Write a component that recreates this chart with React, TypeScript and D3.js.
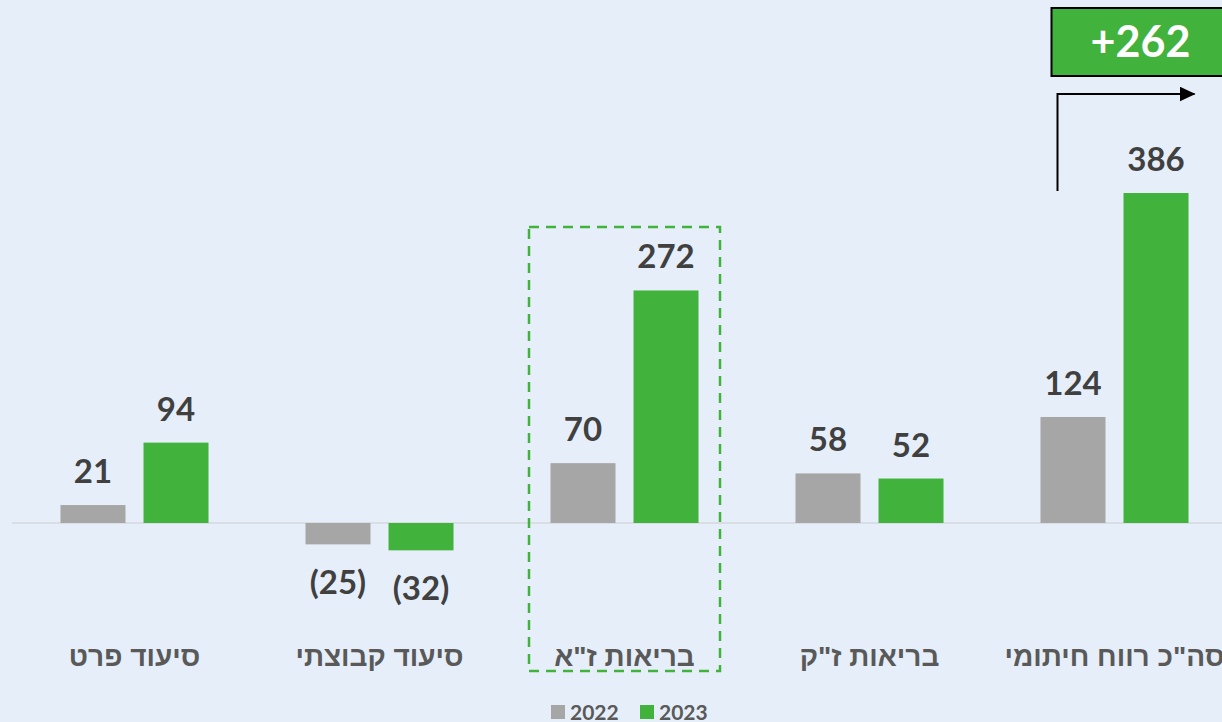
import React from "react";
import * as d3 from "d3";

const categories = ["סיעוד פרט", "סיעוד קבוצתי", "בריאות ז\"א", "בריאות ז\"ק", "סה\"כ רווח חיתומי"];
const series = ["2022", "2023"];
const values2022 = [21, -25, 70, 58, 124];
const values2023 = [94, -32, 272, 52, 386];
const deltaLabel = "+262";
const highlightCategory = "בריאות ז\"א";

const W = 1222;
const H = 722;
const BG = "#e6eff9";
const GREY = "#a6a6a6";
const GREEN = "#41b23b";
const colors: Record<string, string> = { "2022": GREY, "2023": GREEN };

const fmt = (v: number) => (v < 0 ? `(${Math.abs(v)})` : `${v}`);

export default function App() {
  const x0 = d3.scaleBand<string>().domain(categories).range([12, 12 + 5 * 245]).padding(0);
  const x1 = d3.scaleBand<string>().domain(series).range([-74, 74]).paddingInner(0.217).paddingOuter(0);
  const y = d3.scaleLinear().domain([0, 386]).range([523, 193]);

  const numFont = "Lato, 'Open Sans', sans-serif";
  const hebFont = "'Liberation Sans Narrow', 'Liberation Sans', 'DejaVu Sans', sans-serif";

  const data = categories.map((c, i) => ({ c, vals: [values2022[i], values2023[i]] }));

  const hx = x0(highlightCategory)! + x0.bandwidth() / 2;
  const lastCx = x0(categories[4])! + x0.bandwidth() / 2;
  const lastTop = y(values2023[4]);

  return (
    <svg
      width={W}
      height={H}
      style={{ position: "fixed", left: 0, top: 0, background: BG }}
      viewBox={`0 0 ${W} ${H}`}
    >
      <defs>
        <marker id="arr" markerWidth="16" markerHeight="15" refX="15" refY="7.5" orient="auto" markerUnits="userSpaceOnUse" viewBox="0 0 16 15">
          <path d="M0,0 L16,7.5 L0,15 Z" fill="#000" />
        </marker>
      </defs>
      <rect x={0} y={0} width={W} height={H} fill={BG} />
      <line x1={12} x2={W} y1={y(0)} y2={y(0)} stroke="#d4d9de" strokeWidth={1.5} />
      {data.map((d) => {
        const cx = x0(d.c)! + x0.bandwidth() / 2;
        return (
          <g key={d.c}>
            {d.vals.map((v, j) => {
              const s = series[j];
              const bx = cx + x1(s)!;
              const top = Math.min(y(v), y(0));
              const h = Math.abs(y(v) - y(0));
              const lx = bx + x1.bandwidth() / 2;
              const ly = v >= 0 ? y(v) - 22 : y(v) + 50;
              return (
                <g key={s}>
                  <rect x={bx} y={top} width={x1.bandwidth()} height={h} fill={colors[s]} />
                  <text x={lx} y={ly} textAnchor="middle" fontFamily={numFont} fontWeight={700} fontSize={33} fill="#404040">
                    {fmt(v)}
                  </text>
                </g>
              );
            })}
            <text x={cx} y={666} textAnchor="middle" direction="rtl" fontFamily={hebFont} fontWeight={700} fontSize={28} fill="#595959">
              {d.c}
            </text>
          </g>
        );
      })}
      <rect x={hx - 95.5} y={227} width={191} height={444} fill="none" stroke={GREEN} strokeWidth={2.5} strokeDasharray="10,7" />
      <path
        d={`M${lastCx - 57},${lastTop - 2} L${lastCx - 57},${lastTop - 99} L${lastCx + 80},${lastTop - 99}`}
        fill="none"
        stroke="#000"
        strokeWidth={2}
        markerEnd="url(#arr)"
      />
      <rect x={lastCx - 63} y={8} width={200} height={68} fill={GREEN} stroke="#000" strokeWidth={2} />
      <text x={lastCx + 26} y={57} textAnchor="middle" fontFamily={numFont} fontWeight={700} fontSize={43} fill="#fff">
        {deltaLabel}
      </text>
      <g fontFamily={numFont} fontWeight={700} fontSize={21} fill="#595959">
        {series.map((s, i) => {
          const lx = 551 + i * 89;
          return (
            <g key={s}>
              <rect x={lx} y={705} width={14} height={14} fill={colors[s]} />
              <text x={lx + 19} y={720}>{s}</text>
            </g>
          );
        })}
      </g>
    </svg>
  );
}
